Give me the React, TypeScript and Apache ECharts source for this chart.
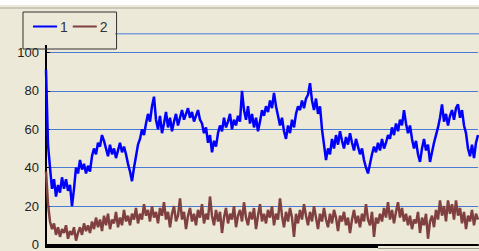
import React, { useEffect, useRef } from "react";
import * as echarts from "echarts";

const seriesNames = ["1", "2"];
const yTicks = [0, 20, 40, 60, 80, 100];

const series1: number[] = [
  91, 52, 40, 29, 34, 25, 31, 27, 35, 29,
  34, 28, 31, 20, 29, 40, 37, 44, 39, 42,
  37, 41, 38, 46, 50, 47, 53, 51, 57, 54,
  50, 46, 52, 47, 50, 45, 49, 53, 48, 51,
  47, 42, 38, 33, 40, 46, 52, 55, 60, 57,
  63, 68, 64, 72, 77, 65, 60, 67, 58, 63,
  69, 61, 66, 59, 64, 68, 62, 66, 70, 65,
  68, 71, 66, 69, 64, 67, 70, 65, 63, 58,
  61, 53, 57, 48, 54, 51, 58, 62, 59, 66,
  61, 64, 68, 60, 65, 62, 67, 64, 80, 70,
  65, 72, 63, 68, 61, 66, 59, 64, 70, 67,
  72, 69, 75, 71, 79, 72, 67, 62, 66, 59,
  55, 62, 58, 65, 61, 68, 72, 70, 75, 71,
  76, 78, 84, 75, 70, 76, 68, 72, 60, 52,
  44, 50, 47, 55, 50, 57, 52, 59, 54, 50,
  56, 52, 58, 53, 49, 55, 51, 47, 50, 44,
  40, 37, 42, 47, 51, 48, 53, 49, 55, 50,
  53, 57, 55, 61, 57, 63, 59, 65, 62, 70,
  63, 58, 62, 55, 50, 54, 47, 43, 50, 55,
  49, 52, 43, 48, 53, 57, 61, 66, 73, 64,
  68, 62, 67, 70, 65, 71, 73, 66, 70, 62,
  58, 50, 46, 52, 45, 53, 57,
];

const series2: number[] = [
  38, 21, 12, 8, 11, 5, 9, 4, 8, 6,
  10, 3, 7, 5, 9, 2, 6, 9, 5, 11,
  7, 10, 6, 12, 8, 14, 9, 13, 7, 15,
  10, 16, 8, 13, 11, 17, 9, 14, 10, 18,
  12, 15, 10, 16, 13, 19, 11, 16, 13, 21,
  15, 18, 12, 20, 14, 17, 11, 19, 15, 22,
  13, 17, 9, 16, 20, 12, 15, 24, 13, 17,
  8, 15, 19, 12, 16, 10, 18, 14, 21, 11,
  16, 13, 25, 15, 10, 18, 12, 17, 6, 14,
  19, 11, 16, 13, 20, 9, 15, 18, 12, 22,
  14, 10, 17, 13, 19, 8, 15, 21, 12, 16,
  11, 18, 14, 20, 10, 16, 13, 24, 15, 9,
  17, 12, 19, 14, 4, 16, 11, 18, 13, 21,
  15, 10, 17, 12, 20, 14, 8, 16, 12, 19,
  13, 9, 16, 11, 18, 14, 7, 15, 12, 17,
  10, 14, 6, 13, 18, 11, 15, 9, 16, 12,
  21, 13, 10, 17, 4, 14, 11, 16, 12, 19,
  14, 22, 13, 18, 11, 17, 22, 14, 19, 12,
  16, 10, 15, 8, 13, 11, 17, 6, 14, 10,
  16, 3, 12, 15, 9, 18, 13, 23, 15, 20,
  12, 23, 16, 21, 13, 23, 15, 19, 11, 17,
  8, 15, 12, 18, 10, 16, 13,
];

const categories: number[] = series1.map((_, i) => i);

export default function App() {
  const ref = useRef<HTMLDivElement>(null);
  useEffect(() => {
    if (!ref.current) return;
    const chart = echarts.init(ref.current, null, { renderer: "svg" });
    chart.setOption({
      animation: false,
      backgroundColor: "#ece9d8",
      textStyle: { fontFamily: "Liberation Sans" },
      graphic: [
        { type: "rect", shape: { x: 0, y: 0, width: 479, height: 5 }, style: { fill: "#ffffff" }, silent: true },
        { type: "rect", shape: { x: 0, y: 7.5, width: 479, height: 1 }, style: { fill: "#aca899" }, silent: true },
        { type: "rect", shape: { x: 115, y: 33, width: 364, height: 1.5 }, style: { fill: "#7fa0d8" }, silent: true },
        { type: "rect", shape: { x: 45, y: 45, width: 2, height: 8 }, style: { fill: "#000000" }, silent: true },
        { type: "rect", shape: { x: 45, y: 244, width: 333, height: 4 }, style: { fill: "#000000" }, silent: true },
        { type: "rect", shape: { x: 378, y: 248, width: 101, height: 1 }, style: { fill: "#9a9a90" }, silent: true },
      ],
      legend: {
        data: seriesNames,
        left: 23,
        top: 12,
        orient: "horizontal",
        icon: "rect",
        itemWidth: 24,
        itemHeight: 2,
        itemGap: 5,
        padding: [7, 9, 15, 10],
        borderColor: "#333333",
        borderWidth: 1,
        textStyle: { fontSize: 14, lineHeight: 15, color: "#333333", fontFamily: "Liberation Sans", padding: [0, 0, 0, -2] },
      },
      grid: { left: 46, right: 1, top: 52.5, bottom: 6, containLabel: false },
      xAxis: {
        type: "category",
        data: categories,
        boundaryGap: false,
        axisLine: { show: true, lineStyle: { color: "#000000", width: 2 } },
        axisTick: { show: false },
        axisLabel: { show: false },
        splitLine: { show: false },
      },
      yAxis: {
        type: "value",
        min: yTicks[0],
        max: yTicks[yTicks.length - 1],
        interval: 20,
        axisLine: { show: true, lineStyle: { color: "#000000", width: 2 } },
        axisTick: { show: true, inside: true, length: 4, lineStyle: { color: "#000000", width: 1 } },
        axisLabel: { margin: 7, fontSize: 13, color: "#222222", fontFamily: "Liberation Sans" },
        splitLine: { show: true, lineStyle: { color: "#4a7bd4", width: 1 } },
      },
      series: [
        {
          name: seriesNames[0],
          type: "line",
          data: series1,
          showSymbol: false,
          lineStyle: { color: "#0000ff", width: 2.5 },
          itemStyle: { color: "#0000ff" },
          z: 3,
        },
        {
          name: seriesNames[1],
          type: "line",
          data: series2,
          showSymbol: false,
          lineStyle: { color: "#804040", width: 2.5 },
          itemStyle: { color: "#804040" },
          z: 2,
        },
      ],
    });
    return () => chart.dispose();
  }, []);
  return (
    <div
      ref={ref}
      style={{ position: "absolute", left: 0, top: 0, width: 479, height: 251 }}
    />
  );
}
